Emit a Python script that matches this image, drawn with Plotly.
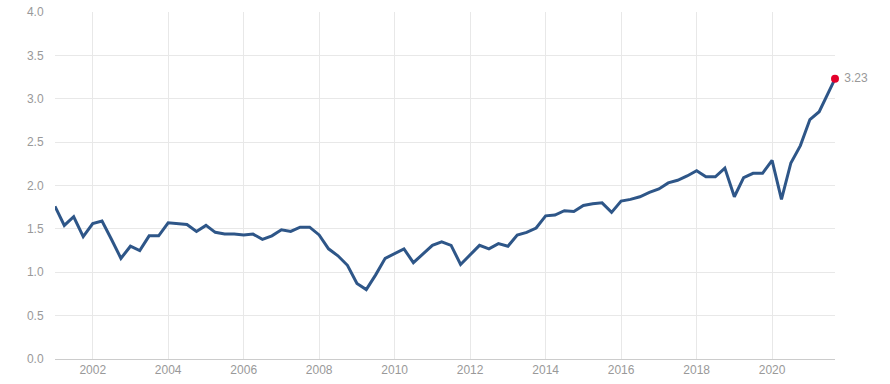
import plotly.graph_objects as go

dates = [
    "2001-01-01", "2001-04-01", "2001-07-01", "2001-10-01",
    "2002-01-01", "2002-04-01", "2002-07-01", "2002-10-01",
    "2003-01-01", "2003-04-01", "2003-07-01", "2003-10-01",
    "2004-01-01", "2004-04-01", "2004-07-01", "2004-10-01",
    "2005-01-01", "2005-04-01", "2005-07-01", "2005-10-01",
    "2006-01-01", "2006-04-01", "2006-07-01", "2006-10-01",
    "2007-01-01", "2007-04-01", "2007-07-01", "2007-10-01",
    "2008-01-01", "2008-04-01", "2008-07-01", "2008-10-01",
    "2009-01-01", "2009-04-01", "2009-07-01", "2009-10-01",
    "2010-01-01", "2010-04-01", "2010-07-01", "2010-10-01",
    "2011-01-01", "2011-04-01", "2011-07-01", "2011-10-01",
    "2012-01-01", "2012-04-01", "2012-07-01", "2012-10-01",
    "2013-01-01", "2013-04-01", "2013-07-01", "2013-10-01",
    "2014-01-01", "2014-04-01", "2014-07-01", "2014-10-01",
    "2015-01-01", "2015-04-01", "2015-07-01", "2015-10-01",
    "2016-01-01", "2016-04-01", "2016-07-01", "2016-10-01",
    "2017-01-01", "2017-04-01", "2017-07-01", "2017-10-01",
    "2018-01-01", "2018-04-01", "2018-07-01", "2018-10-01",
    "2019-01-01", "2019-04-01", "2019-07-01", "2019-10-01",
    "2020-01-01", "2020-04-01", "2020-07-01", "2020-10-01",
    "2021-01-01", "2021-04-01", "2021-09-01",
]

values = [
    1.76, 1.54, 1.64, 1.41,
    1.56, 1.59, 1.38, 1.16,
    1.30, 1.25, 1.42, 1.42,
    1.57, 1.56, 1.55, 1.47,
    1.54, 1.46, 1.44, 1.44,
    1.43, 1.44, 1.38, 1.42,
    1.49, 1.47, 1.52, 1.52,
    1.43, 1.27, 1.19, 1.08,
    0.87, 0.80, 0.97, 1.16,
    1.22, 1.27, 1.11, 1.21,
    1.31, 1.35, 1.31, 1.09,
    1.20, 1.31, 1.27, 1.33,
    1.30, 1.43, 1.46, 1.51,
    1.65, 1.66, 1.71, 1.70,
    1.77, 1.79, 1.80, 1.69,
    1.82, 1.84, 1.87, 1.92,
    1.96, 2.03, 2.06, 2.11,
    2.17, 2.10, 2.10, 2.20,
    1.87, 2.09, 2.14, 2.14,
    2.29, 1.84, 2.26, 2.46,
    2.76, 2.85, 3.23,
]

y_ticks = [0.0, 0.5, 1.0, 1.5, 2.0, 2.5, 3.0, 3.5, 4.0]
y_tick_labels = ["0.0", "0.5", "1.0", "1.5", "2.0", "2.5", "3.0", "3.5", "4.0"]
last_label = "3.23"

fig = go.Figure()
fig.add_trace(go.Scatter(
    x=dates, y=values, mode="lines",
    line=dict(color="#2e5688", width=3),
    hoverinfo="x+y", showlegend=False,
))
fig.add_trace(go.Scatter(
    x=[dates[-1]], y=[values[-1]], mode="markers+text",
    marker=dict(color="#e4002b", size=8),
    text=[" " + last_label], textposition="middle right",
    textfont=dict(family="Liberation Sans, Arial, sans-serif", size=12, color="#999999"),
    showlegend=False, cliponaxis=False,
))

fig.update_layout(
    width=890, height=384,
    margin=dict(l=55, r=55, t=12, b=25, autoexpand=False),
    paper_bgcolor="white", plot_bgcolor="white",
    font=dict(family="Liberation Sans, Arial, sans-serif", size=12, color="#999999"),
    xaxis=dict(
        type="date", automargin=False,
        range=[dates[0], dates[-1]],
        tick0="2002-01-01", dtick="M24", tickformat="%Y",
        showgrid=True, gridcolor="#e8e8e8", gridwidth=1,
        showline=True, linecolor="#cccccc", linewidth=1,
        ticks="", zeroline=False,
        tickfont=dict(size=12, color="#999999"),
    ),
    yaxis=dict(
        range=[0, 4.0], automargin=False,
        tickvals=y_ticks, ticktext=y_tick_labels,
        showgrid=True, gridcolor="#e8e8e8", gridwidth=1,
        zeroline=False, showline=False,
        ticks="outside", ticklen=8, tickcolor="rgba(0,0,0,0)",
        tickfont=dict(size=12, color="#999999"),
    ),
)

fig.write_html(
    "out.html",
    config={"displayModeBar": False},
    post_script="document.body.style.margin='0';document.body.style.padding='0';",
)
